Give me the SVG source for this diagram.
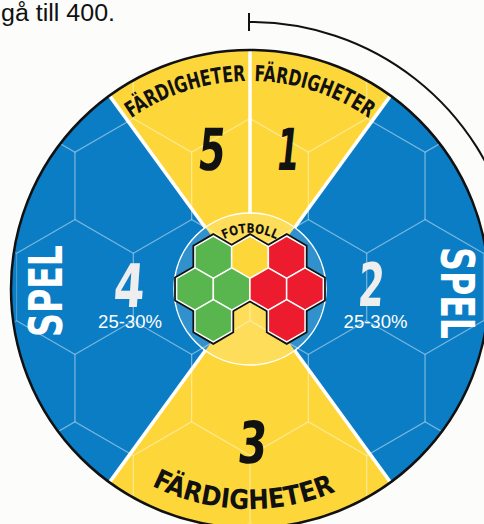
<svg xmlns="http://www.w3.org/2000/svg" xmlns:xlink="http://www.w3.org/1999/xlink" width="484" height="524" viewBox="0 0 484 524">
<style>
.sport{font-family:"DejaVu Sans Condensed","DejaVu Sans",sans-serif;font-weight:bold;font-stretch:condensed}
.lbl{font-size:22px;fill:#111}
.num{font-size:58px;fill:#111;text-anchor:middle}
.numw{font-size:60px;fill:#eeeeee;text-anchor:middle}
.pct{font-family:"Liberation Sans",Arial,sans-serif;font-size:18.5px;fill:#fff;text-anchor:middle}
.spel{font-size:46px;fill:#fff;text-anchor:middle}
.grid{fill:none;stroke:#fff;stroke-opacity:0.25;stroke-width:1.2}
.sep{stroke:#fff;stroke-width:3.5}
.hexw{stroke:#fff;stroke-width:1.5}
</style>
<defs>
<clipPath id="cc"><circle cx="250" cy="289" r="239"/></clipPath>
<polygon id="hx" points="0,-21.2 18.36,-10.6 18.36,10.6 0,21.2 -18.36,10.6 -18.36,-10.6"/>
<polygon id="bh" points="0,-67.4 58.37,-33.7 58.37,33.7 0,67.4 -58.37,33.7 -58.37,-33.7"/>
<path id="p5" d="M127.7,120.7 A208,208 0 0 1 250,81"/>
<path id="p1" d="M250,81 A208,208 0 0 1 372.3,120.7"/>
<path id="p3" d="M140,479.5 A220,220 0 0 0 360,479.5"/>
<path id="pf" d="M214,246 A56,56 0 0 1 286,246"/>
</defs>
<rect width="484" height="524" fill="#fcfcfa"/>
<text x="1" y="21" font-family="Liberation Sans, Arial, sans-serif" font-size="23" fill="#111" textLength="114" lengthAdjust="spacingAndGlyphs">gå till 400.</text>

<g id="connectors">
<path d="M250,22 A267,267 0 0 1 510,226" fill="none" stroke="#111" stroke-width="2"/>
<line x1="249" y1="13" x2="249" y2="31" stroke="#111" stroke-width="2"/>
</g>

<g id="wheel">
<circle cx="250" cy="289" r="239" fill="#0a7dc4"/>
<path d="M250,289 L109.5,95.6 A239,239 0 0 1 390.5,95.6 Z" fill="#fdd73a"/>
<path d="M250,289 L390.5,482.4 A239,239 0 0 1 109.5,482.4 Z" fill="#fdd73a"/>
<g clip-path="url(#cc)" class="grid">
<use href="#bh" x="191.65" y="287"/><use href="#bh" x="308.35" y="287"/><use href="#bh" x="74.95" y="287"/><use href="#bh" x="425.05" y="287"/>
<use href="#bh" x="250" y="185.9"/><use href="#bh" x="133.3" y="185.9"/><use href="#bh" x="366.7" y="185.9"/><use href="#bh" x="16.6" y="185.9"/><use href="#bh" x="483.4" y="185.9"/>
<use href="#bh" x="250" y="388.1"/><use href="#bh" x="133.3" y="388.1"/><use href="#bh" x="366.7" y="388.1"/><use href="#bh" x="16.6" y="388.1"/><use href="#bh" x="483.4" y="388.1"/>
<use href="#bh" x="191.65" y="84.8"/><use href="#bh" x="308.35" y="84.8"/><use href="#bh" x="74.95" y="84.8"/><use href="#bh" x="425.05" y="84.8"/>
<use href="#bh" x="191.65" y="489.2"/><use href="#bh" x="308.35" y="489.2"/><use href="#bh" x="74.95" y="489.2"/><use href="#bh" x="425.05" y="489.2"/>
</g>
<circle cx="250" cy="289" r="76" fill="#fff" fill-opacity="0.16" stroke="#fff" stroke-width="1.5"/>
<line class="sep" x1="205.3" y1="227.5" x2="109.5" y2="95.6"/>
<line class="sep" x1="294.7" y1="227.5" x2="390.5" y2="95.6"/>
<line class="sep" x1="205.3" y1="350.5" x2="109.5" y2="482.4"/>
<line class="sep" x1="294.7" y1="350.5" x2="390.5" y2="482.4"/>
<line class="sep" x1="250" y1="213" x2="250" y2="50"/>
<circle cx="250" cy="289" r="239" fill="none" stroke="#111" stroke-width="2.5"/>
</g>

<g id="sector5">
<text class="sport lbl"><textPath href="#p5" startOffset="50%" text-anchor="middle" textLength="122" lengthAdjust="spacingAndGlyphs">FÄRDIGHETER</textPath></text>
<text class="sport num" transform="translate(210,170) skewX(-6)" textLength="27" lengthAdjust="spacingAndGlyphs">5</text>
</g>
<g id="sector1">
<text class="sport lbl"><textPath href="#p1" startOffset="50%" text-anchor="middle" textLength="122" lengthAdjust="spacingAndGlyphs">FÄRDIGHETER</textPath></text>
<text class="sport num" transform="translate(286,170) skewX(-6)" textLength="22" lengthAdjust="spacingAndGlyphs">1</text>
</g>
<g id="sector3">
<text class="sport lbl" style="font-size:27px"><textPath href="#p3" startOffset="47%" text-anchor="middle" textLength="190" lengthAdjust="spacingAndGlyphs">FÄRDIGHETER</textPath></text>
<text class="sport num" transform="translate(251,463) skewX(-5)" textLength="29" lengthAdjust="spacingAndGlyphs">3</text>
</g>
<g id="sector4">
<text class="sport numw" transform="translate(128,307) skewX(-4)" textLength="31" lengthAdjust="spacingAndGlyphs">4</text>
<text class="pct" x="130" y="328">25-30%</text>
<text class="sport spel" transform="translate(62,291) rotate(-90)" textLength="92" lengthAdjust="spacingAndGlyphs">SPEL</text>
</g>
<g id="sector2">
<text class="sport numw" transform="translate(370,306) skewX(-4)" textLength="26" lengthAdjust="spacingAndGlyphs">2</text>
<text class="pct" x="375.5" y="328">25-30%</text>
<text class="sport spel" transform="translate(441,293) rotate(90)" textLength="92" lengthAdjust="spacingAndGlyphs">SPEL</text>
</g>

<g id="fotboll">
<g fill="#111" stroke="#111" stroke-width="5" stroke-linejoin="miter">
<use href="#hx" x="213.3" y="257.2"/><use href="#hx" x="250" y="257.2"/><use href="#hx" x="286.7" y="257.2"/>
<use href="#hx" x="195" y="289"/><use href="#hx" x="231.7" y="289"/><use href="#hx" x="268.3" y="289"/><use href="#hx" x="305" y="289"/>
<use href="#hx" x="213.3" y="320.8"/><use href="#hx" x="286.7" y="320.8"/>
</g>
<g class="hexw">
<use href="#hx" x="213.3" y="257.2" fill="#59b54e"/><use href="#hx" x="250" y="257.2" fill="#fdd73a"/><use href="#hx" x="286.7" y="257.2" fill="#ec1c2e"/>
<use href="#hx" x="195" y="289" fill="#59b54e"/><use href="#hx" x="231.7" y="289" fill="#59b54e"/><use href="#hx" x="268.3" y="289" fill="#ec1c2e"/><use href="#hx" x="305" y="289" fill="#ec1c2e"/>
<use href="#hx" x="213.3" y="320.8" fill="#59b54e"/><use href="#hx" x="286.7" y="320.8" fill="#ec1c2e"/>
</g>
<text class="sport" style="font-size:13px;fill:#111"><textPath href="#pf" startOffset="50%" text-anchor="middle" textLength="54" lengthAdjust="spacingAndGlyphs">FOTBOLL</textPath></text>
</g>
</svg>
